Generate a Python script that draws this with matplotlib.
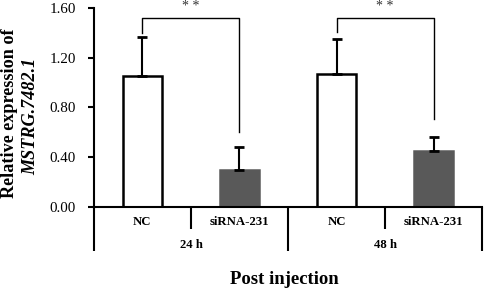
import matplotlib.pyplot as plt
from matplotlib.transforms import blended_transform_factory

plt.rcParams['font.family'] = ['Liberation Serif', 'DejaVu Serif']

groups = ['24 h', '48 h']
conditions = ['NC', 'siRNA-231', 'NC', 'siRNA-231']
means = [1.05, 0.30, 1.07, 0.45]
errors = [0.32, 0.18, 0.28, 0.11]
bar_colors = ['white', '#595959', 'white', '#595959']
edge_colors = ['black', '#595959', 'black', '#595959']
# brackets: (left bar, right bar, left leg bottom, right leg bottom)
brackets = [(0, 1, 1.40, 0.60), (2, 3, 1.41, 0.71)]
bracket_y = 1.52

fig = plt.figure(figsize=(4.84, 2.92), dpi=100)
fig.patch.set_facecolor('white')
ax = fig.add_axes([0.194, 0.291, 0.802, 0.682])

x = list(range(len(means)))
ax.bar(x, means, width=0.4, color=bar_colors, edgecolor=edge_colors, linewidth=1.8, zorder=2)
ax.errorbar(x, means, yerr=[[0] * len(errors), errors], fmt='none', ecolor='black',
            elinewidth=1.5, capsize=3.5, capthick=2, zorder=3)

for l, r, yl, yr in brackets:
    ax.plot([l, l, r, r], [yl, bracket_y, bracket_y, yr], color='black', lw=1.0,
            clip_on=False, zorder=4)
    ax.text((l + r) / 2, 1.61, '* *', ha='center', va='center', fontsize=10,
            color='#333333', clip_on=False)

ax.set_xlim(-0.5, 3.5)
ax.set_ylim(0, 1.6)
ax.set_yticks([0, 0.4, 0.8, 1.2, 1.6])
ax.set_yticklabels(['%.2f' % v for v in [0, 0.4, 0.8, 1.2, 1.6]], fontsize=10.8)
ax.tick_params(axis='y', direction='out', length=4, width=1.5, pad=9)

ax.set_xticks([-0.5, 1.5, 3.5])
ax.set_xticklabels([])
ax.set_xticks([0.5, 2.5], minor=True)
ax.tick_params(axis='x', which='major', direction='out', length=32, width=1.5)
ax.tick_params(axis='x', which='minor', direction='out', length=16, width=1.5)

for side in ['top', 'right']:
    ax.spines[side].set_visible(False)
for side in ['left', 'bottom']:
    ax.spines[side].set_linewidth(1.5)

trans = blended_transform_factory(ax.transData, fig.transFigure)
for i, c in enumerate(conditions):
    ax.text(i, 1 - 222 / 292, c, transform=trans, ha='center', va='center',
            fontsize=9.2, fontweight='bold')
for g, name in enumerate(groups):
    ax.text(2 * g + 0.5, 1 - 245 / 292, name, transform=trans, ha='center', va='center',
            fontsize=9.2, fontweight='bold')

fig.text(0.587, 1 - 280 / 292, 'Post injection', ha='center', va='center',
         fontsize=13.5, fontweight='bold')
fig.text(0.020, 1 - 113 / 292, 'Relative expression of', rotation=90, ha='center',
         va='center', fontsize=13.1, fontweight='bold')
fig.text(0.063, 1 - 116 / 292, 'MSTRG.7482.1', rotation=90, ha='center',
         va='center', fontsize=13.1, fontweight='bold', style='italic')

fig.savefig('out.png', dpi=100, facecolor='white')
